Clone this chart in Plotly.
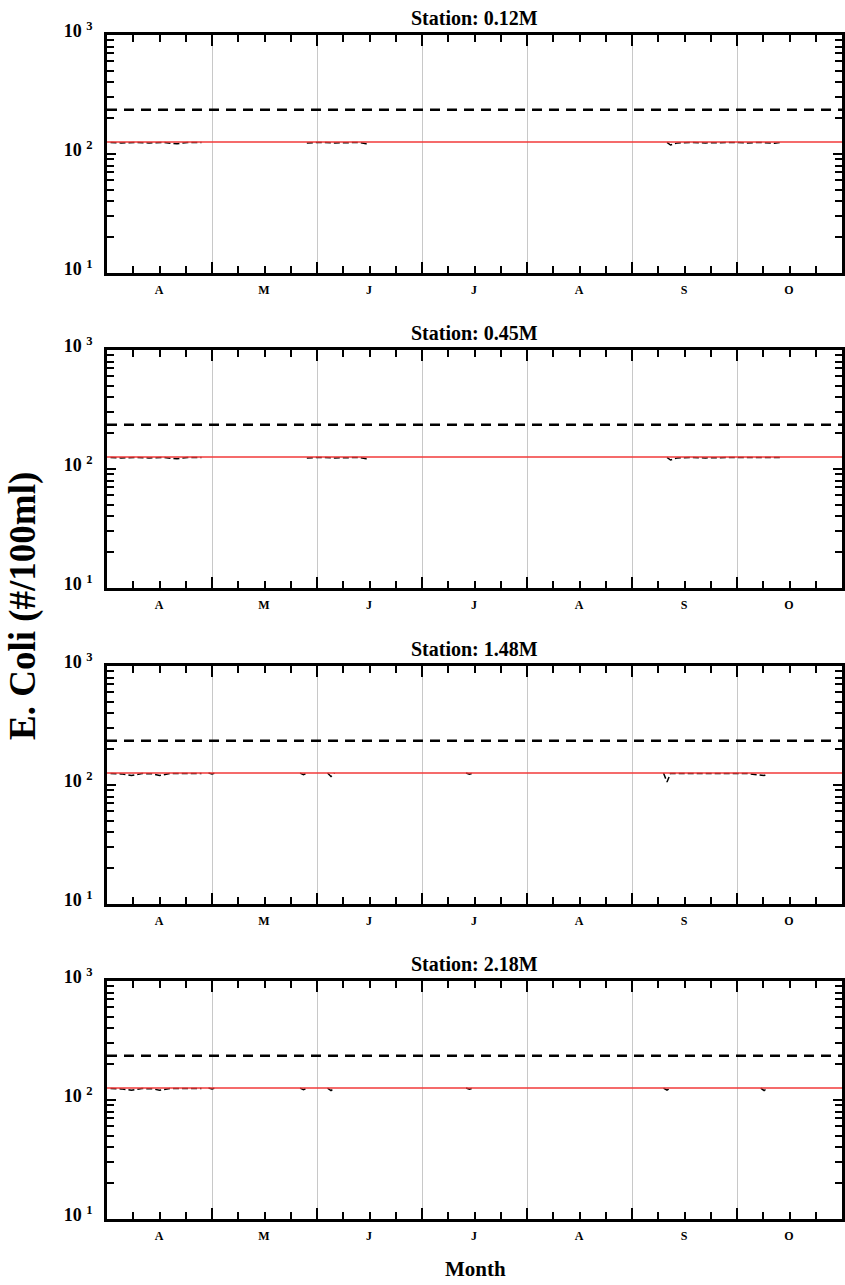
import plotly.graph_objects as go
import pandas as pd

# ---------------- data ----------------
stations = ["0.12M", "0.45M", "1.48M", "2.18M"]
month_labels = ["A", "M", "J", "J", "A", "S", "O"]
geo_mean_std = 126      # geometric-mean standard (#/100ml)
single_sample_std = 235  # single-sample standard (#/100ml)
ytick_vals = [10, 100, 1000]
ytick_text = ["10 <sup>1</sup>", "10 <sup>2</sup>", "10 <sup>3</sup>"]
yminor_vals = [20, 30, 40, 50, 60, 70, 80, 90, 200, 300, 400, 500, 600, 700, 800, 900]

dates_1 = ["2009-04-02", "2009-04-05", "2009-04-09", "2009-04-13", "2009-04-17", "2009-04-21",
           "2009-04-24", "2009-04-28", "2009-04-28",
           "2009-05-29", "2009-06-02", "2009-06-06", "2009-06-10", "2009-06-13", "2009-06-15",
           "2009-06-16", "2009-06-16",
           "2009-09-11", "2009-09-12", "2009-09-14", "2009-09-18", "2009-09-22", "2009-09-26",
           "2009-09-30", "2009-10-04", "2009-10-08", "2009-10-12", "2009-10-14"]
ecoli_1 = [125, 124, 125, 124, 125, 122, 125, 125, None,
           124, 125, 124, 125, 125, 122, 125, None,
           125, 119, 124, 125, 124, 125, 125, 124, 125, 123, 125]

dates_2 = dates_1
ecoli_2 = [125, 124, 125, 124, 125, 122, 125, 125, None,
           124, 125, 124, 125, 125, 122, 125, None,
           125, 119, 124, 125, 124, 125, 125, 125, 125, 124, 125]

dates_3 = ["2009-04-02", "2009-04-05", "2009-04-08", "2009-04-11", "2009-04-14", "2009-04-16",
           "2009-04-19", "2009-04-23", "2009-04-28", "2009-04-28",
           "2009-04-30", "2009-05-01", "2009-05-02", "2009-05-02",
           "2009-05-27", "2009-05-28", "2009-05-29", "2009-05-29",
           "2009-06-04", "2009-06-05", "2009-06-06", "2009-06-06",
           "2009-07-14", "2009-07-15", "2009-07-16", "2009-07-16",
           "2009-09-10", "2009-09-11", "2009-09-12", "2009-09-16", "2009-09-20", "2009-09-25",
           "2009-09-30", "2009-10-04", "2009-10-09", "2009-10-10"]
ecoli_3 = [125, 124, 120, 125, 124, 120, 125, 125, 125, None,
           126, 124, 126, None,
           126, 122, 126, None,
           126, 118, 126, None,
           126, 123, 126, None,
           126, 106, 125, 125, 124, 125, 124, 125, 120, 125]

dates_4 = ["2009-04-02", "2009-04-05", "2009-04-08", "2009-04-11", "2009-04-14", "2009-04-16",
           "2009-04-19", "2009-04-23", "2009-04-28", "2009-04-28",
           "2009-04-30", "2009-05-01", "2009-05-02", "2009-05-02",
           "2009-05-27", "2009-05-28", "2009-05-29", "2009-05-29",
           "2009-06-04", "2009-06-05", "2009-06-06", "2009-06-06",
           "2009-07-14", "2009-07-15", "2009-07-16", "2009-07-16",
           "2009-09-10", "2009-09-11", "2009-09-12", "2009-09-12",
           "2009-10-08", "2009-10-09", "2009-10-10"]
ecoli_4 = [125, 124, 121, 125, 124, 121, 125, 125, 125, None,
           126, 124, 126, None,
           126, 122, 126, None,
           126, 120, 126, None,
           126, 123, 126, None,
           126, 121, 126, None,
           126, 120, 126]

all_dates = [dates_1, dates_2, dates_3, dates_4]
all_ecoli = [ecoli_1, ecoli_2, ecoli_3, ecoli_4]


def month_pos(ds):
    out = []
    for d in ds:
        t = pd.Timestamp(d)
        out.append((t.month - 4) + (t.day - 1) / t.days_in_month)
    return out


# ---------------- layout ----------------
W, H = 845, 1285
FONT = "Liberation Serif, Times New Roman, serif"
xdom = [107 / W, 842 / W]
panels_px = [(35, 273), (350, 588), (666, 904), (981, 1219)]
n_months = len(month_labels)
month_px = (xdom[1] - xdom[0]) * W / n_months

fig = go.Figure()
layout = dict(width=W, height=H, margin=dict(l=0, r=0, t=0, b=0, autoexpand=False),
              paper_bgcolor="white", plot_bgcolor="white", showlegend=False)

month_starts = list(range(n_months))
quarter_vals = []
for m in range(n_months):
    quarter_vals += [m + 0.25, m + 0.5, m + 0.75]

annotations = []
for i, (top, bot) in enumerate(panels_px):
    k = "" if i == 0 else str(i + 1)
    xs = month_pos(all_dates[i])
    fig.add_trace(go.Scatter(x=xs, y=all_ecoli[i], mode="lines",
                             line=dict(color="black", width=1.5, dash="6px,3px"),
                             connectgaps=False, xaxis="x" + k, yaxis="y" + k))
    fig.add_trace(go.Scatter(x=[0, n_months], y=[single_sample_std] * 2, mode="lines",
                             line=dict(color="black", width=2.5, dash="10px,7px"),
                             xaxis="x" + k, yaxis="y" + k))
    fig.add_trace(go.Scatter(x=[0, n_months], y=[geo_mean_std] * 2, mode="lines",
                             line=dict(color="#f23a3a", width=1.6),
                             xaxis="x" + k, yaxis="y" + k))
    ydom = [1 - bot / H, 1 - top / H]
    layout["xaxis" + k] = dict(
        domain=xdom, anchor="y" + k, range=[0, n_months], automargin=False,
        tickmode="array", tickvals=month_starts, ticktext=month_labels,
        ticklabelshift=int(round(month_px / 2)), ticklabelstandoff=4,
        ticks="inside", ticklen=11, tickwidth=2, tickcolor="black",
        showline=True, linewidth=2.5, linecolor="black", mirror="allticks",
        showgrid=True, gridcolor="#c8c8c8", gridwidth=1, zeroline=False,
        tickfont=dict(family=FONT, size=12, color="black", weight="bold"),
        minor=dict(tickmode="array", tickvals=quarter_vals, ticks="inside", ticklen=7,
                   tickwidth=2, tickcolor="black", showgrid=False))
    layout["yaxis" + k] = dict(
        domain=ydom, anchor="x" + k, type="log", range=[1, 3], automargin=False,
        tickmode="array", tickvals=ytick_vals, ticktext=ytick_text,
        ticks="inside", ticklen=9, tickwidth=2, tickcolor="black",
        showline=True, linewidth=2.5, linecolor="black", mirror="allticks",
        showgrid=False, zeroline=False, ticklabelstandoff=8, ticklabelshift=-4,
        tickfont=dict(family=FONT, size=18, color="black", weight="bold"),
        minor=dict(tickmode="array", tickvals=yminor_vals, ticks="inside", ticklen=7,
                   tickwidth=2, tickcolor="black", showgrid=False))
    annotations.append(dict(text="Station: " + stations[i], x=(xdom[0] + xdom[1]) / 2,
                            y=1 - (top - 17) / H, xref="paper", yref="paper",
                            showarrow=False, xanchor="center", yanchor="middle",
                            font=dict(family=FONT, size=20, color="black", weight="bold")))

annotations.append(dict(text="E. Coli (#/100ml)", x=23 / W, y=1 - 606 / H, xref="paper",
                        yref="paper", showarrow=False, textangle=-90,
                        xanchor="center", yanchor="middle",
                        font=dict(family=FONT, size=37, color="black", weight="bold")))
annotations.append(dict(text="Month", x=476 / W, y=1 - 1269 / H, xref="paper",
                        yref="paper", showarrow=False, xanchor="center", yanchor="middle",
                        font=dict(family=FONT, size=21, color="black", weight="bold")))
layout["annotations"] = annotations
fig.update_layout(**layout)
fig.write_html("out.html")
